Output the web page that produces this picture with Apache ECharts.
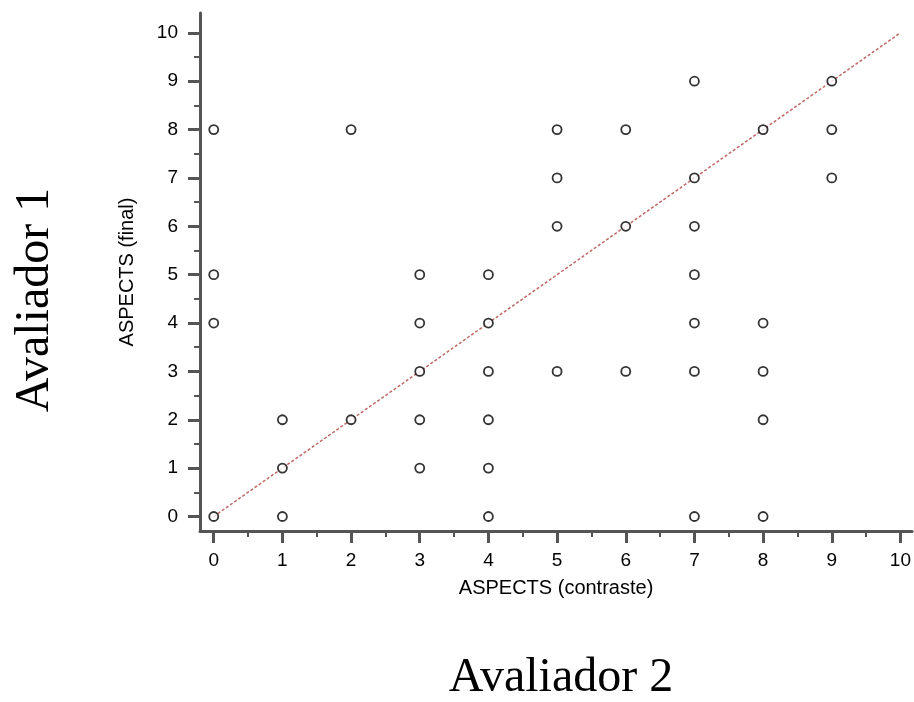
<!DOCTYPE html>
<html>
<head>
<meta charset="utf-8">
<script src="https://cdn.jsdelivr.net/npm/echarts@6/dist/echarts.min.js"></script>
<style>
  html, body { margin: 0; padding: 0; background: #fff; }
  #chart { width: 914px; height: 702px; }
</style>
</head>
<body>
<div id="chart"></div>
<script>
// ASPECTS pontos (contraste x final)
const contraste = [0, 0, 0, 0, 1, 1, 1, 2, 2, 3, 3, 3, 3, 3, 4, 4, 4, 4, 4, 4,
  5, 5, 5, 5, 6, 6, 6, 7, 7, 7, 7, 7, 7, 7, 8, 8, 8, 8, 8, 9, 9, 9];
const final = [8, 5, 4, 0, 2, 1, 0, 8, 2, 5, 4, 3, 2, 1, 5, 4, 3, 2, 1, 0,
  8, 7, 6, 3, 8, 6, 3, 9, 7, 6, 5, 4, 3, 0, 8, 4, 3, 2, 0, 9, 8, 7];
const lineX = [0, 10];
const lineY = [0, 10];
const ticks = [0, 1, 2, 3, 4, 5, 6, 7, 8, 9, 10];
const minorTicks = [0.5, 1.5, 2.5, 3.5, 4.5, 5.5, 6.5, 7.5, 8.5, 9.5];

const axisColor = '#555';
const sans = 'Liberation Sans, Arial, sans-serif';
const serif = 'Liberation Serif, Times New Roman, serif';

const chart = echarts.init(document.getElementById('chart'));

const points = contraste.map((x, i) => [x, final[i]]);
const line = lineX.map((x, i) => [x, lineY[i]]);

function majorAxis(name, min, max, isY) {
  return {
    type: 'value',
    min: min,
    max: max,
    name: name,
    nameLocation: 'middle',
    nameGap: isY ? 63 : 47,
    nameTextStyle: { fontFamily: sans, fontSize: 20, color: '#000' },
    axisLine: { show: true, onZero: false, lineStyle: { color: axisColor, width: 3 } },
    axisTick: { show: true, customValues: ticks, length: 12, lineStyle: { color: axisColor, width: 3 } },
    axisLabel: { customValues: ticks, margin: isY ? 22 : 20, fontFamily: sans, fontSize: 19, color: '#000' },
    splitLine: { show: false }
  };
}

function minorAxis(min, max) {
  return {
    type: 'value',
    min: min,
    max: max,
    axisLine: { show: false, onZero: false },
    axisTick: { show: true, customValues: minorTicks, length: 6, lineStyle: { color: axisColor, width: 2 } },
    axisLabel: { show: false },
    splitLine: { show: false }
  };
}

const option = {
  backgroundColor: '#fff',
  animation: false,
  grid: { left: 200, top: 13, right: 0, bottom: 171, containLabel: false },
  xAxis: [
    majorAxis('ASPECTS (contraste)', -0.2, 10.17, false),
    Object.assign(minorAxis(-0.2, 10.17), { position: 'bottom' })
  ],
  yAxis: [
    majorAxis('ASPECTS (final)', -0.3, 10.41, true),
    Object.assign(minorAxis(-0.3, 10.41), { position: 'left' })
  ],
  graphic: [
    {
      type: 'text',
      x: 561,
      y: 702,
      style: { text: 'Avaliador 2', fontFamily: serif, fontSize: 48, fill: '#000', align: 'center', verticalAlign: 'bottom' }
    },
    {
      type: 'text',
      x: 11,
      y: 300,
      rotation: Math.PI / 2,
      style: { text: 'Avaliador 1', fontFamily: serif, fontSize: 48, fill: '#000', align: 'center', verticalAlign: 'top' }
    }
  ],
  series: [
    {
      type: 'line',
      data: line,
      symbol: 'none',
      z: 1,
      lineStyle: { color: '#c06868', width: 1.5, type: [3, 2] }
    },
    {
      type: 'scatter',
      data: points,
      symbol: 'circle',
      symbolSize: 9,
      z: 3,
      itemStyle: { color: '#fff', borderColor: '#000', borderWidth: 1.8 }
    }
  ]
};

chart.setOption(option);
</script>
</body>
</html>
